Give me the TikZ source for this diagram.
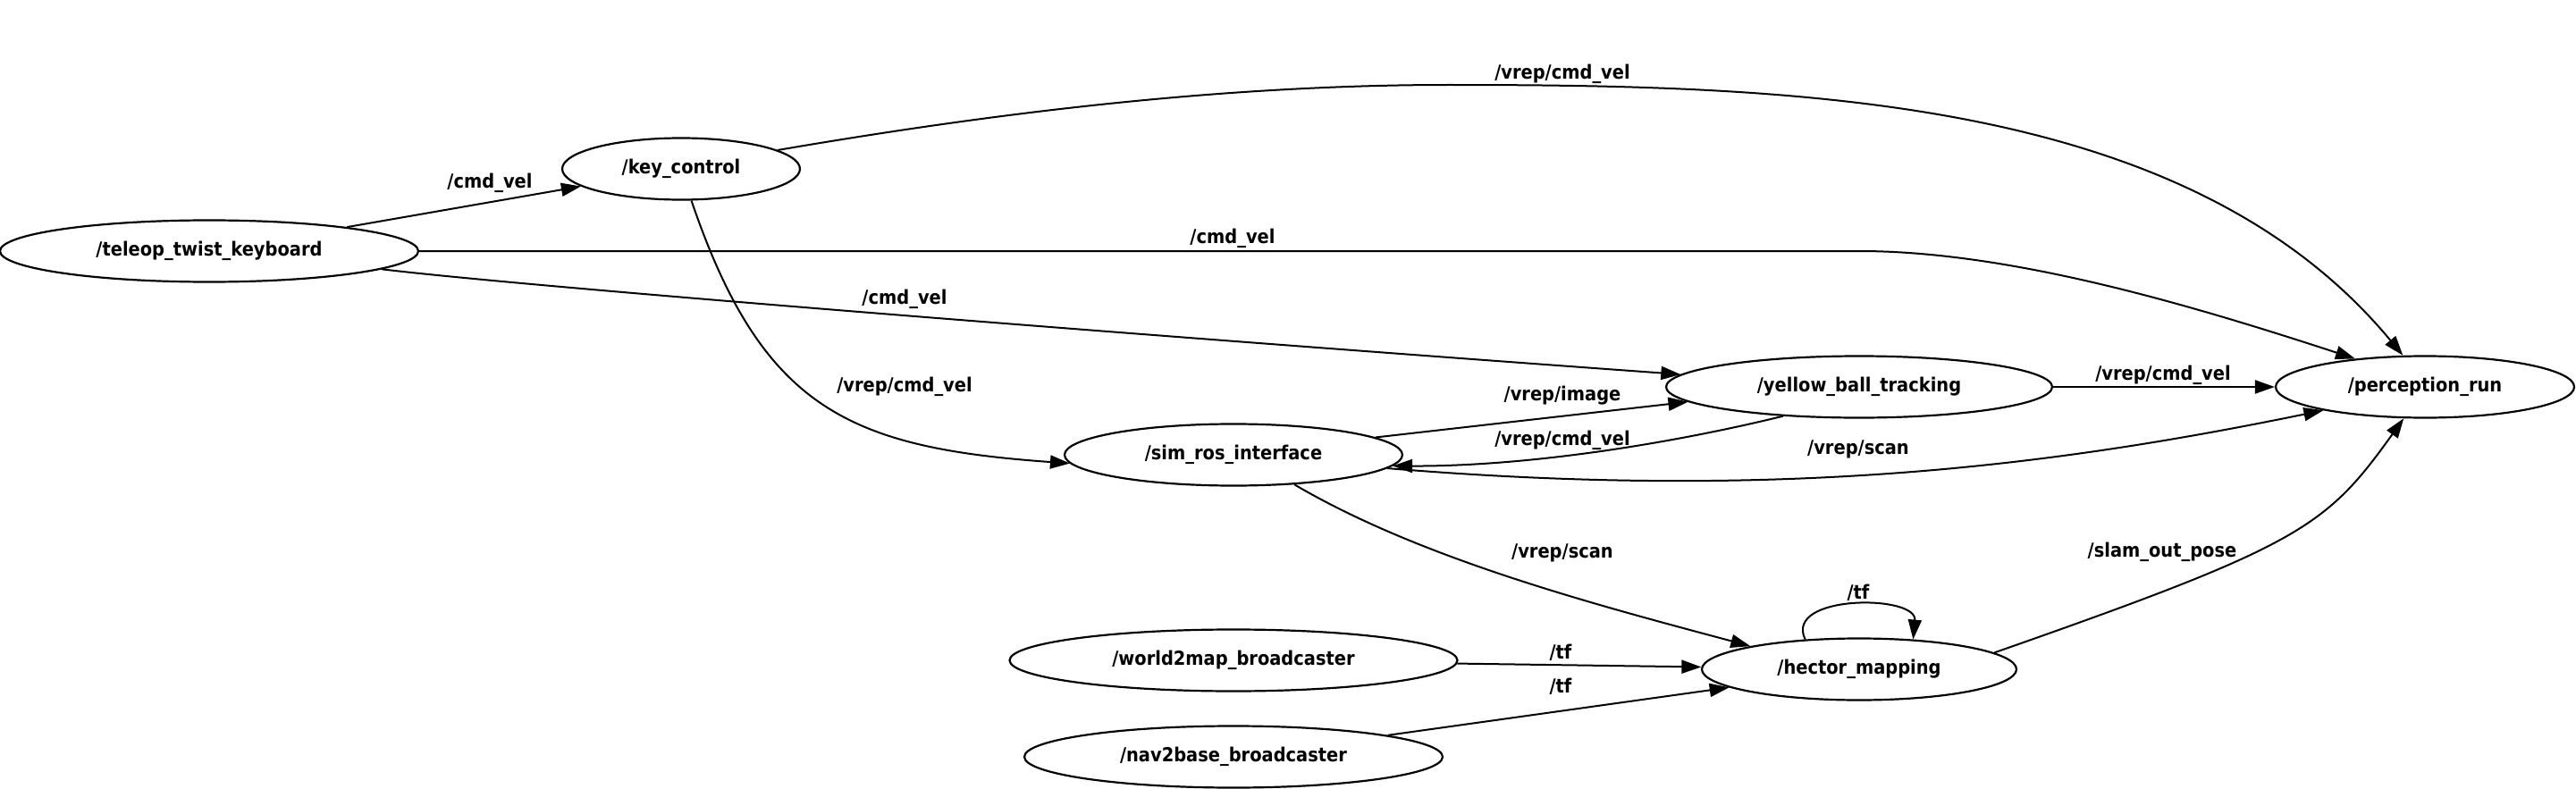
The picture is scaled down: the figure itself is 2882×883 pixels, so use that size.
\documentclass[tikz,border=0pt]{standalone}
\usepackage{fontspec}
\setmainfont{DejaVu Sans}[FakeStretch=0.9]
\usetikzlibrary{shapes.geometric,arrows.meta}
\tikzset{
  nd/.style={draw, ellipse, line width=1.1pt, inner sep=0pt, minimum height=34.5pt,
    font=\fontsize{10.8}{12}\selectfont\bfseries},
  lbl/.style={inner sep=0pt, font=\fontsize{10.8}{12}\selectfont\bfseries},
  edge/.style={line width=1pt, -{Triangle[length=11pt,width=7.5pt]}},
}
\begin{document}
\begin{tikzpicture}[x=0.5pt,y=-0.5pt]
\useasboundingbox (0,0) rectangle (2882,883);
% nodes
\node[nd, minimum width=234pt] (T) at (234,281) {/teleop\_twist\_keyboard};
\node[nd, minimum width=133pt] (K) at (762,189) {/key\_control};
\node[nd, minimum width=189pt] (S) at (1380,509) {/sim\_ros\_interface};
\node[nd, minimum width=216pt] (Y) at (2080,433) {/yellow\_ball\_tracking};
\node[nd, minimum width=167pt] (P) at (2713,433) {/perception\_run};
\node[nd, minimum width=176pt] (H) at (2080,749) {/hector\_mapping};
\node[nd, minimum width=250.5pt] (W) at (1380,739) {/world2map\_broadcaster};
\node[nd, minimum width=234pt] (N) at (1380,847) {/nav2base\_broadcaster};
% edges
\draw[edge] (T) -- (K);
\draw[edge] (K.11.7) .. controls (1115,126) and (1370,95) .. (1620,95)
  .. controls (2020,95) and (2450,110) .. (P.125.5);
\draw[edge] (T.east) -- (2080,281) .. controls (2250,281) and (2453,342) .. (P.158.8);
\draw[edge] (T.-6.7) .. controls (600,322) and (1300,377) .. (Y.176.3);
\draw[edge] (K.-72) .. controls (853,458) and (950,501) .. (S.183.5);
\draw[edge] (S.7.2) -- (Y.185.2);
\draw[edge] (Y.201.7) .. controls (1867,497) and (1708,522) .. (S.-4.2);
\draw[edge] (Y) -- (P);
\draw[edge] (S.-5.4) .. controls (1998,561) and (2303,520) .. (P.193.8);
\draw[edge] (S.-26.9) .. controls (1592,627) and (1794,679) .. (H.168);
\draw[edge] (H.151.6) .. controls (1995,665) and (2145,665) .. (H.29.3);
\draw[edge] (W) -- (H);
\draw[edge] (N) -- (H);
\draw[edge] (H.7) .. controls (2575,610) and (2602,590) .. (P.236);
% labels
\node[lbl] (l1) at (548,205) {/cmd\_vel};
\node[lbl] (l2) at (1748,83) {/vrep/cmd\_vel};
\node[lbl] (l3) at (1379,267) {/cmd\_vel};
\node[lbl] (l4) at (1012,335) {/cmd\_vel};
\node[lbl] (l5) at (1012,433) {/vrep/cmd\_vel};
\node[lbl] (l6) at (1748,443) {/vrep/image};
\node[lbl] (l7) at (1748,493) {/vrep/cmd\_vel};
\node[lbl] (l8) at (2420,420) {/vrep/cmd\_vel};
\node[lbl] (l9) at (2079,503) {/vrep/scan};
\node[lbl] (l10) at (1748,619) {/vrep/scan};
\node[lbl] (l11) at (2079,663) {/tf};
\node[lbl] (l12) at (1746,730) {/tf};
\node[lbl] (l13) at (1746,768) {/tf};
\node[lbl] (l14) at (2419,618) {/slam\_out\_pose};
\end{tikzpicture}
\end{document}
